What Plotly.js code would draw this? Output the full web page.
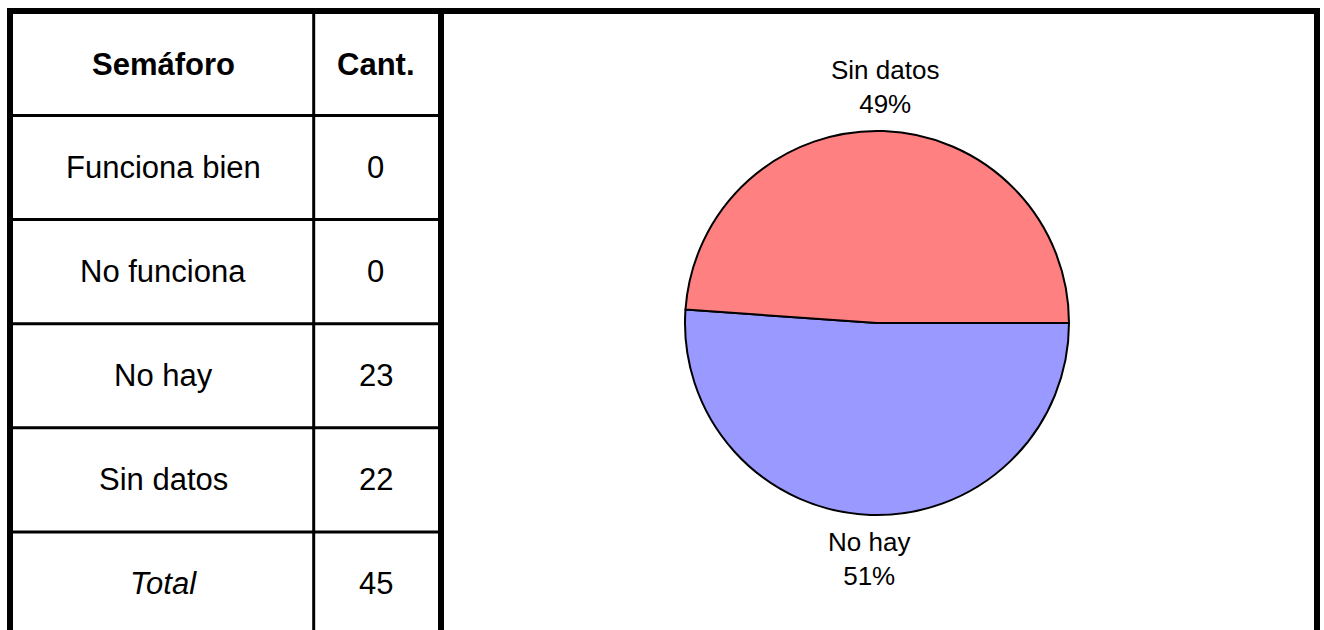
<!DOCTYPE html>
<html>
<head>
<meta charset="utf-8">
<script src="https://cdn.plot.ly/plotly-3.0.1.min.js"></script>
<style>html,body{margin:0;padding:0;background:#fff;}#chart{width:1324px;height:630px;}</style>
</head>
<body>
<div id="chart"></div>
<script>
// ---- data ----
const headers = ['Semáforo', 'Cant.'];
const categories = ['Funciona bien', 'No funciona', 'No hay', 'Sin datos'];
const counts = [0, 0, 23, 22];
const totalLabel = 'Total';
const pieColors = {'No hay': '#9999FF', 'Sin datos': '#FF8080'};

// ---- layout helpers ----
const W = 1324, H = 630;
const px = v => v / W;
const py = v => 1 - v / H;
const FONT = 'Liberation Sans, Arial, sans-serif';

const total = counts.reduce((a, b) => a + b, 0);

// table geometry
const tblLeft = 13, tblRight = 438, colDiv = 313.7;
const headTop = 14, headBottom = 115.5, rowPitch = 104.1;
const col1C = (tblLeft + colDiv) / 2, col2C = (colDiv + tblRight) / 2;

const shapes = [];
const line = (x0, y0, x1, y1, w) => shapes.push({type: 'line', xref: 'paper', yref: 'paper',
  x0: px(x0), y0: py(y0), x1: px(x1), y1: py(y1), line: {color: '#000', width: w}, layer: 'above'});

// outer frame (bottom is cut off)
line(7, 11, 1320, 11, 6);
line(10, 8, 10, H, 6);
line(1317, 8, 1317, H, 6);
line(441, 8, 441, H, 6);
// column divider
line(colDiv, headTop, colDiv, H, 3);
// row lines
const nRows = categories.length + 1;
for (let i = 0; i < nRows; i++) {
  const y = headBottom + i * rowPitch;
  line(tblLeft, y, tblRight, y, 3);
}

const annotations = [];
const txt = (x, y, text, size, extra) => annotations.push(Object.assign({
  xref: 'paper', yref: 'paper', x: px(x), y: py(y), text: text, showarrow: false,
  xanchor: 'center', yanchor: 'middle', font: {family: FONT, size: size, color: '#000'}
}, extra || {}));

const headC = (headTop + headBottom) / 2;
txt(col1C, headC, '<b>' + headers[0] + '</b>', 31);
txt(col2C, headC, '<b>' + headers[1] + '</b>', 31);
categories.forEach((c, i) => {
  const yc = headBottom + (i + 0.5) * rowPitch;
  txt(col1C, yc, c, 31);
  txt(col2C, yc, String(counts[i]), 31);
});
const totC = headBottom + (categories.length + 0.5) * rowPitch;
txt(col1C, totC, '<i>' + totalLabel + '</i>', 31);
txt(col2C, totC, String(total), 31);

// ---- pie ----
const pieLabels = categories.filter((c, i) => counts[i] > 0);
const pieValues = counts.filter(v => v > 0);
const cx = 877, cy = 323, R = 192;

// outside labels placed at each slice's mid angle (clockwise from 3 o'clock)
let cum = 0;
const labR = 236;
pieLabels.forEach((lab, i) => {
  const frac = pieValues[i] / total;
  const mid = -(cum + frac / 2) * 2 * Math.PI;
  cum += frac;
  const x = cx + labR * Math.cos(mid);
  const y = cy - labR * Math.sin(mid);
  txt(x, y, lab + '<br>' + Math.round(frac * 100) + '%', 26);
});

const data = [{
  type: 'pie',
  labels: pieLabels,
  values: pieValues,
  sort: false,
  direction: 'clockwise',
  rotation: 90,
  textinfo: 'none',
  hoverinfo: 'label+value+percent',
  marker: {colors: pieLabels.map(l => pieColors[l]), line: {color: '#000', width: 2}},
  domain: {x: [px(cx - R), px(cx + R)], y: [py(cy + R), py(cy - R)]},
  showlegend: false
}];

const layout = {
  width: W, height: H,
  margin: {l: 0, r: 0, t: 0, b: 0},
  paper_bgcolor: '#fff', plot_bgcolor: '#fff',
  showlegend: false,
  shapes: shapes,
  annotations: annotations
};

Plotly.newPlot('chart', data, layout, {displayModeBar: false, staticPlot: true});
</script>
</body>
</html>
